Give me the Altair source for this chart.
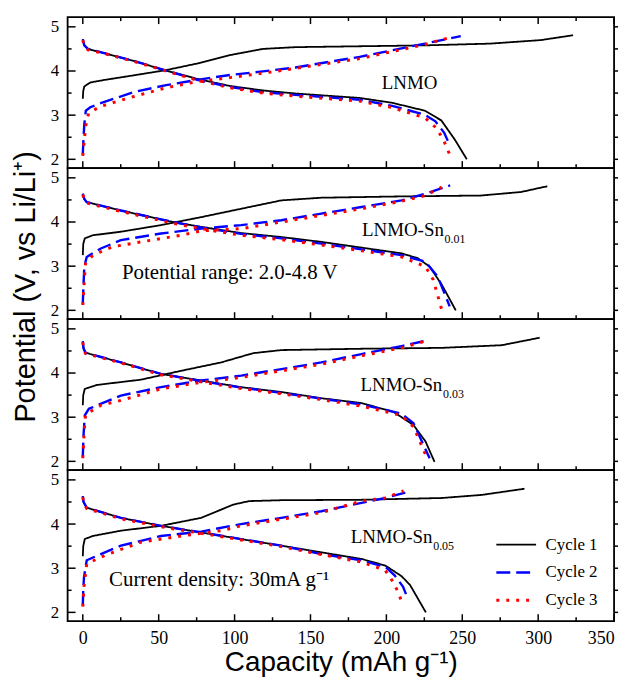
import altair as alt
import pandas as pd

# ---------------- data ----------------
CYCLES = ["Cycle 1", "Cycle 2", "Cycle 3"]
COLORS = ["#000000", "#0000ff", "#ff0000"]
DASHES = [[1, 0], [14, 6], [3, 7]]
WIDTHS = [1.8, 3.0, 3.5]
CAP_DOMAIN = [-10, 350]
V_DOMAIN = [1.8, 5.22]
Y_MAJOR = [2, 3, 4, 5]
Y_MINOR = [2.5, 3.5, 4.5]
Y_RIGHT = [2, 2.5, 3, 3.5, 4, 4.5, 5]
X_MAJOR = [0, 50, 100, 150, 200, 250, 300, 350]
X_MINOR = [25, 75, 125, 175, 225, 275, 325]

# Panel 1 : LNMO
P1_C1_CHG_CAP = [0, 0.3, 1, 4.9, 14.7, 33.3, 54.9, 75.5, 97, 118.6, 140.1, 182.3, 225.4, 268.5, 301.8, 323]
P1_C1_CHG_V = [3.37, 3.55, 3.65, 3.74, 3.80, 3.90, 4.02, 4.17, 4.36, 4.50, 4.54, 4.56, 4.58, 4.62, 4.70, 4.81]
P1_C1_DIS_CAP = [0, 1, 3.4, 14.7, 33.3, 54.9, 75.5, 97, 118.6, 140.1, 182.3, 203.8, 225.4, 236.2, 245, 253]
P1_C1_DIS_V = [4.72, 4.58, 4.50, 4.40, 4.23, 4.01, 3.82, 3.66, 3.56, 3.49, 3.39, 3.28, 3.10, 2.88, 2.45, 2.00]
P1_C2_CHG_CAP = [0, 0.5, 1, 2, 4.9, 11.8, 33.3, 54.9, 75.5, 97, 118.6, 140.1, 182.3, 225.4, 249]
P1_C2_CHG_V = [2.12, 2.50, 2.79, 3.10, 3.18, 3.27, 3.52, 3.68, 3.80, 3.91, 3.99, 4.08, 4.32, 4.62, 4.79]
P1_C2_DIS_CAP = [0, 1, 3.4, 14.7, 33.3, 54.9, 75.5, 97, 118.6, 140.1, 182.3, 203.8, 225.4, 232.3, 238.1, 242]
P1_C2_DIS_V = [4.72, 4.58, 4.50, 4.40, 4.23, 4.01, 3.80, 3.64, 3.52, 3.46, 3.35, 3.21, 3.01, 2.86, 2.60, 2.30]
P1_C3_CHG_CAP = [0, 1, 2, 3.9, 11.8, 33.3, 54.9, 75.5, 97, 118.6, 140.1, 182.3, 225.4, 243]
P1_C3_CHG_V = [2.08, 2.45, 2.77, 3.05, 3.20, 3.42, 3.62, 3.76, 3.85, 3.95, 4.06, 4.28, 4.60, 4.77]
P1_C3_DIS_CAP = [0, 1, 3.4, 14.7, 33.3, 54.9, 75.5, 97, 118.6, 140.1, 182.3, 203.8, 225.4, 233.2, 238.1, 243]
P1_C3_DIS_V = [4.70, 4.56, 4.48, 4.39, 4.22, 4.00, 3.79, 3.62, 3.50, 3.43, 3.32, 3.17, 2.94, 2.70, 2.40, 2.00]

# Panel 2 : LNMO-Sn0.01
P2_C1_CHG_CAP = [0, 0.3, 1.3, 6.6, 25.1, 51.5, 77.9, 104.3, 130.8, 157.1, 210, 262.4, 288.8, 306]
P2_C1_CHG_V = [3.25, 3.50, 3.63, 3.70, 3.78, 3.93, 4.11, 4.30, 4.49, 4.55, 4.58, 4.60, 4.68, 4.81]
P2_C1_DIS_CAP = [0, 1, 2.6, 25.1, 59.4, 77.9, 104.3, 130.8, 157.1, 183.6, 210, 220.7, 228.5, 236.5, 245.7]
P2_C1_DIS_V = [4.64, 4.52, 4.45, 4.26, 4.00, 3.89, 3.75, 3.66, 3.55, 3.42, 3.29, 3.18, 2.99, 2.58, 2.00]
P2_C2_CHG_CAP = [0, 0.5, 1, 2.6, 11.9, 25.1, 51.5, 77.9, 104.3, 130.8, 157.1, 183.6, 210, 225.8, 242]
P2_C2_CHG_V = [2.16, 2.60, 2.99, 3.21, 3.40, 3.59, 3.74, 3.85, 3.93, 4.04, 4.19, 4.34, 4.49, 4.64, 4.83]
P2_C2_DIS_CAP = [0, 1, 2.6, 25.1, 59.4, 77.9, 104.3, 130.8, 157.1, 183.6, 210, 225.8, 233.9, 241.7]
P2_C2_DIS_V = [4.64, 4.52, 4.45, 4.26, 4.00, 3.88, 3.73, 3.63, 3.51, 3.38, 3.25, 3.10, 2.76, 2.09]
P2_C3_CHG_CAP = [0, 1, 1.8, 6.6, 19.8, 38.3, 64.7, 77.9, 104.3, 130.8, 157.1, 183.6, 210, 225.8, 236.5]
P2_C3_CHG_V = [2.12, 2.70, 3.06, 3.25, 3.44, 3.55, 3.70, 3.80, 3.85, 4.00, 4.15, 4.30, 4.47, 4.60, 4.79]
P2_C3_DIS_CAP = [0, 1, 2.6, 25.1, 59.4, 77.9, 104.3, 130.8, 157.1, 183.6, 210, 225.8, 230.9, 236.5]
P2_C3_DIS_V = [4.62, 4.50, 4.43, 4.24, 3.97, 3.85, 3.70, 3.60, 3.48, 3.35, 3.21, 2.99, 2.69, 2.01]

# Panel 3 : LNMO-Sn0.03
P3_C1_CHG_CAP = [0, 0.3, 1.3, 9.3, 38.3, 64.7, 91.1, 112.3, 130.8, 183.6, 236.5, 276, 301]
P3_C1_CHG_V = [3.27, 3.50, 3.64, 3.73, 3.85, 4.05, 4.24, 4.45, 4.52, 4.55, 4.57, 4.63, 4.80]
P3_C1_DIS_CAP = [0, 0.5, 1.8, 25.1, 51.5, 77.9, 104.3, 130.8, 157.1, 183.6, 204.7, 217.9, 225.8, 231.7]
P3_C1_DIS_V = [4.70, 4.55, 4.46, 4.24, 3.98, 3.83, 3.68, 3.57, 3.43, 3.32, 3.12, 2.82, 2.45, 1.99]
P3_C2_CHG_CAP = [0, 0.5, 1.3, 4, 25.1, 51.5, 77.9, 104.3, 130.8, 157.1, 183.6, 210, 224.5]
P3_C2_CHG_V = [2.11, 2.60, 3.04, 3.19, 3.49, 3.68, 3.83, 3.94, 4.09, 4.24, 4.43, 4.61, 4.72]
P3_C2_DIS_CAP = [0, 0.5, 1.8, 25.1, 51.5, 77.9, 104.3, 130.8, 157.1, 183.6, 210, 217.9, 228.5]
P3_C2_DIS_V = [4.72, 4.56, 4.46, 4.24, 3.98, 3.82, 3.67, 3.55, 3.42, 3.29, 3.08, 2.86, 2.07]
P3_C3_CHG_CAP = [0, 0.8, 1.8, 11.9, 25.1, 51.5, 77.9, 104.3, 130.8, 157.1, 183.6, 210, 225.4]
P3_C3_CHG_V = [2.07, 2.60, 3.06, 3.27, 3.38, 3.64, 3.79, 3.90, 4.05, 4.20, 4.39, 4.57, 4.72]
P3_C3_DIS_CAP = [0, 0.5, 1.8, 25.1, 51.5, 77.9, 104.3, 130.8, 157.1, 183.6, 210, 217.9, 225.8, 227.2]
P3_C3_DIS_V = [4.70, 4.54, 4.44, 4.23, 3.96, 3.80, 3.65, 3.53, 3.40, 3.25, 3.04, 2.78, 2.15, 2.06]

# Panel 4 : LNMO-Sn0.05
P4_C1_CHG_CAP = [0, 0.3, 1.3, 6.6, 25.1, 51.5, 77.9, 99.1, 109.6, 130.8, 183.6, 236.5, 262.8, 291]
P4_C1_CHG_V = [3.27, 3.50, 3.66, 3.73, 3.85, 3.96, 4.14, 4.44, 4.52, 4.54, 4.55, 4.59, 4.66, 4.80]
P4_C1_DIS_CAP = [0, 0.5, 2.6, 25.1, 51.5, 77.9, 104.3, 130.8, 157.1, 183.6, 199.3, 210, 215.6, 226]
P4_C1_DIS_V = [4.63, 4.50, 4.37, 4.14, 3.96, 3.81, 3.66, 3.51, 3.36, 3.21, 3.06, 2.82, 2.62, 2.00]
P4_C2_CHG_CAP = [0, 0.3, 0.8, 2.6, 11.9, 25.1, 51.5, 77.9, 104.3, 130.8, 157.1, 183.6, 199.3, 215.3]
P4_C2_CHG_V = [2.17, 2.50, 2.80, 3.18, 3.32, 3.51, 3.73, 3.83, 4.00, 4.14, 4.29, 4.48, 4.59, 4.74]
P4_C2_DIS_CAP = [0, 0.5, 2.6, 25.1, 51.5, 77.9, 104.3, 130.8, 157.1, 183.6, 199.3, 205.4, 211, 214]
P4_C2_DIS_V = [4.63, 4.50, 4.37, 4.14, 3.96, 3.81, 3.66, 3.51, 3.32, 3.18, 3.03, 2.84, 2.58, 2.32]
P4_C3_CHG_CAP = [0, 0.8, 2.6, 14.5, 38.3, 64.7, 91.1, 104.3, 130.8, 157.1, 183.6, 199.3, 211.3]
P4_C3_CHG_V = [2.13, 2.60, 3.10, 3.29, 3.59, 3.73, 3.85, 3.96, 4.11, 4.26, 4.52, 4.59, 4.75]
P4_C3_DIS_CAP = [0, 0.5, 2.6, 25.1, 51.5, 77.9, 104.3, 130.8, 157.1, 183.6, 199.3, 203, 207, 211]
P4_C3_DIS_V = [4.61, 4.48, 4.35, 4.12, 3.94, 3.79, 3.64, 3.49, 3.31, 3.14, 2.95, 2.77, 2.51, 2.17]

# annotations (data coordinates)
LABEL_TEXT = ["LNMO", "LNMO-Sn", "LNMO-Sn", "LNMO-Sn"]
LABEL_CAP = [197, 184, 183, 176.5]
LABEL_V = [3.72, 3.82, 3.73, 3.71]
SUB_TEXT = ["", "0.01", "0.03", "0.05"]
NOTE_PANEL = [1, 3]
NOTE_TEXT = ["Potential range: 2.0-4.8 V", "Current density: 30mA g\u207b\u00b9"]
NOTE_CAP = [25.8, 17.3]
NOTE_V = [2.84, 2.73]

# ---------------- build table ----------------
G = globals()
rows = []
for p in range(4):
    for c in range(3):
        for seg in ("CHG", "DIS"):
            caps = G[f"P{p+1}_C{c+1}_{seg}_CAP"]
            vs = G[f"P{p+1}_C{c+1}_{seg}_V"]
            for i, (a, b) in enumerate(zip(caps, vs)):
                rows.append({"panel": p, "cycle": CYCLES[c], "seg": seg, "idx": i,
                             "cap": a, "v": b})
lines = pd.DataFrame(rows)

FONT = "Liberation Serif"
SANS = "Liberation Sans"
W, H = 550, 152


def xs():
    return alt.Scale(domain=CAP_DOMAIN, nice=False, zero=False)


def ys():
    return alt.Scale(domain=V_DOMAIN, nice=False, zero=False)


legend = alt.Legend(orient="none", legendX=430, legendY=67, title=None,
                    symbolType="stroke", symbolSize=1600, symbolStrokeWidth=2.5,
                    labelFont=FONT, labelFontSize=17, labelColor="black",
                    labelOffset=8, clipHeight=16, rowPadding=11, padding=0)


def make_panel(p):
    show_x = p == 3
    if show_x:
        xaxis = alt.Axis(values=X_MAJOR, ticks=False, domain=False, grid=False,
                         labelFont=FONT, labelFontSize=18, labelColor="black",
                         labelPadding=8, title="Capacity (mAh g\u207b\u00b9)",
                         titleFont=SANS, titleFontSize=28, titleFontWeight="normal",
                         titleColor="black", titlePadding=2)
    else:
        xaxis = None
    yargs = dict(values=Y_MAJOR, ticks=False, domain=False, grid=False,
                 labelFont=FONT, labelFontSize=17, labelColor="black",
                 labelPadding=9, format="d")
    if p == 1:
        yaxis = alt.Axis(title="Potential (V, vs Li/Li\u207a)", titleFont=SANS,
                         titleFontSize=29, titleFontWeight="normal", titleColor="black",
                         titleX=-33, titleY=119, titleBaseline="alphabetic", **yargs)
    else:
        yaxis = alt.Axis(title=None, **yargs)

    layers = []
    for k, cyc in enumerate(CYCLES):
        d = lines[(lines.panel == p) & (lines.cycle == cyc)]
        lg = legend if p == 3 else None
        layers.append(
            alt.Chart(d).mark_line(interpolate="linear").encode(
                x=alt.X("cap:Q", scale=xs(), axis=xaxis),
                y=alt.Y("v:Q", scale=ys(), axis=yaxis),
                color=alt.Color("cycle:N", scale=alt.Scale(domain=CYCLES, range=COLORS), legend=lg),
                strokeDash=alt.StrokeDash("cycle:N", scale=alt.Scale(domain=CYCLES, range=DASHES), legend=lg),
                strokeWidth=alt.StrokeWidth("cycle:N", scale=alt.Scale(domain=CYCLES, range=WIDTHS), legend=lg),
                detail="seg:N",
                order="idx:Q",
            )
        )

    # inward/outward ticks
    ymaj = pd.DataFrame({"v": Y_MAJOR})
    ymin = pd.DataFrame({"v": Y_MINOR})
    yr = pd.DataFrame({"v": Y_RIGHT})
    xmaj = pd.DataFrame({"cap": X_MAJOR})
    xmin = pd.DataFrame({"cap": X_MINOR})
    tk = dict(color="black", strokeWidth=1.5)
    layers += [
        alt.Chart(ymaj).mark_rule(**tk).encode(y=alt.Y("v:Q", scale=ys(), axis=yaxis), x=alt.value(0), x2=alt.value(8)),
        alt.Chart(ymin).mark_rule(**tk).encode(y=alt.Y("v:Q", scale=ys(), axis=yaxis), x=alt.value(0), x2=alt.value(4)),
        alt.Chart(yr).mark_rule(**tk).encode(y=alt.Y("v:Q", scale=ys(), axis=yaxis), x=alt.value(W), x2=alt.value(W + 4)),
        alt.Chart(xmaj).mark_rule(**tk).encode(x=alt.X("cap:Q", scale=xs(), axis=xaxis), y=alt.value(H), y2=alt.value(H - 7)),
        alt.Chart(xmin).mark_rule(**tk).encode(x=alt.X("cap:Q", scale=xs(), axis=xaxis), y=alt.value(H), y2=alt.value(H - 4)),
    ]
    if p == 0:
        layers += [
            alt.Chart(xmaj).mark_rule(**tk).encode(x=alt.X("cap:Q", scale=xs(), axis=xaxis), y=alt.value(0), y2=alt.value(7)),
            alt.Chart(xmin).mark_rule(**tk).encode(x=alt.X("cap:Q", scale=xs(), axis=xaxis), y=alt.value(0), y2=alt.value(4)),
        ]

    # labels
    lab = pd.DataFrame({"cap": [LABEL_CAP[p]], "v": [LABEL_V[p]], "t": [LABEL_TEXT[p]], "s": [SUB_TEXT[p]]})
    layers.append(alt.Chart(lab).mark_text(font=FONT, fontSize=19, align="left", baseline="middle", color="black").encode(
        x=alt.X("cap:Q", scale=xs(), axis=xaxis), y=alt.Y("v:Q", scale=ys(), axis=yaxis), text="t:N"))
    if SUB_TEXT[p]:
        layers.append(alt.Chart(lab).mark_text(font=FONT, fontSize=12, align="left", baseline="middle", color="black",
                                               dx=83, dy=9).encode(
            x=alt.X("cap:Q", scale=xs(), axis=xaxis), y=alt.Y("v:Q", scale=ys(), axis=yaxis), text="s:N"))
    for j, pp in enumerate(NOTE_PANEL):
        if pp == p:
            nd = pd.DataFrame({"cap": [NOTE_CAP[j]], "v": [NOTE_V[j]], "t": [NOTE_TEXT[j]]})
            layers.append(alt.Chart(nd).mark_text(font=FONT, fontSize=21, align="left", baseline="middle", color="black").encode(
                x=alt.X("cap:Q", scale=xs(), axis=xaxis), y=alt.Y("v:Q", scale=ys(), axis=yaxis), text="t:N"))

    return alt.layer(*layers).properties(width=W, height=H)


chart = alt.vconcat(*[make_panel(p) for p in range(4)], spacing=0, bounds="flush").resolve_scale(
    color="independent", strokeDash="independent", strokeWidth="independent",
    x="independent", y="independent",
).resolve_legend(
    color="independent", strokeDash="independent", strokeWidth="independent",
).properties(
    padding={"left": 3, "top": 5, "right": 5, "bottom": 0},
    background="white",
).configure_view(stroke="black", strokeWidth=1.8)

chart.save("out.html", embed_options={"renderer": "svg", "actions": False})
